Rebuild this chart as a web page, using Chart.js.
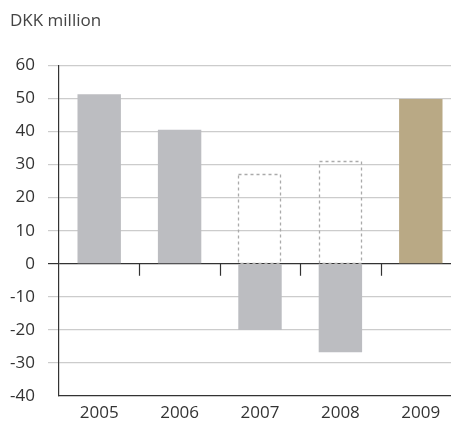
<!DOCTYPE html>
<html>
<head>
<meta charset="utf-8">
<script src="https://cdn.jsdelivr.net/npm/chart.js@4"></script>
<style>
  html, body { margin: 0; padding: 0; background: #fff; overflow: hidden; }
  #wrap { width: 451px; height: 424px; overflow: hidden; }
</style>
</head>
<body>
<div id="wrap"><canvas id="grafica" width="462" height="424"></canvas></div>
<script>
const years = ['2005', '2006', '2007', '2008', '2009'];
const result = [51.3, 40.5, -20, -26.8, 49.8];
const outline = [null, null, 27.1, 31.1, null];
const barColors = ['#bcbdc1', '#bcbdc1', '#bcbdc1', '#bcbdc1', '#b9a985'];

const fuente = { family: 'Open Sans', size: 17, weight: 'normal' };

// bar borders can't be dashed in Chart.js, so the outline bars are stroked here
const dashedBars = {
  id: 'dashedBars',
  afterDatasetDraw(chart, args) {
    if (args.index !== 0) return;
    const { ctx } = chart;
    ctx.save();
    ctx.strokeStyle = '#aaaaaa';
    ctx.lineWidth = 1.3;
    ctx.setLineDash([3, 3]);
    args.meta.data.forEach((bar, i) => {
      if (outline[i] == null) return;
      const { x, y, base, width } = bar.getProps(['x', 'y', 'base', 'width'], true);
      ctx.strokeRect(Math.round(x - width / 2) + 0.5, Math.round(y) + 0.5, Math.round(width) - 1, Math.round(base - y));
    });
    ctx.restore();
  }
};

// small tick marks under the zero line between categories
const zeroTicks = {
  id: 'zeroTicks',
  afterDatasetsDraw(chart) {
    const { ctx, scales: { x, y } } = chart;
    const y0 = y.getPixelForValue(0);
    ctx.save();
    ctx.strokeStyle = '#333';
    ctx.lineWidth = 1.2;
    for (let i = 0; i < years.length - 1; i++) {
      const px = Math.round((x.getPixelForValue(i) + x.getPixelForValue(i + 1)) / 2) + 0.5;
      ctx.beginPath();
      ctx.moveTo(px, y0);
      ctx.lineTo(px, y0 + 12);
      ctx.stroke();
    }
    ctx.restore();
  }
};

const ctx = document.getElementById('grafica').getContext('2d');
new Chart(ctx, {
  type: 'bar',
  data: {
    labels: years,
    datasets: [
      {
        data: outline,
        backgroundColor: 'rgba(0,0,0,0)',
        borderWidth: 0,
        grouped: false,
        barPercentage: 0.54,
        categoryPercentage: 1
      },
      {
        data: result,
        backgroundColor: barColors,
        borderWidth: 0,
        grouped: false,
        barPercentage: 0.54,
        categoryPercentage: 1
      }
    ]
  },
  plugins: [dashedBars, zeroTicks],
  options: {
    responsive: false,
    animation: false,
    layout: { padding: { left: 10, right: 1, top: 0, bottom: 0 } },
    plugins: {
      legend: { display: false },
      tooltip: { enabled: false },
      title: {
        display: true,
        text: 'DKK million',
        align: 'start',
        color: '#444',
        font: fuente,
        padding: { top: 11, bottom: 34 }
      }
    },
    scales: {
      x: {
        grid: { display: false, drawTicks: false },
        border: { color: '#333', width: 1.2 },
        ticks: { color: '#333', font: fuente, padding: 7 },
        afterFit: s => { s.height = 28; }
      },
      y: {
        min: -40,
        max: 60,
        ticks: { stepSize: 10, color: '#333', font: fuente, padding: 13 },
        border: { color: '#333', width: 1.2 },
        grid: {
          tickLength: 11,
          lineWidth: 1.2,
          color: c => c.tick.value === 0 ? '#333' : (c.tick.value === -40 ? 'rgba(0,0,0,0)' : '#cccccc')
        },
        afterFit: s => { s.width = 49; }
      }
    }
  }
});
</script>
</body>
</html>
